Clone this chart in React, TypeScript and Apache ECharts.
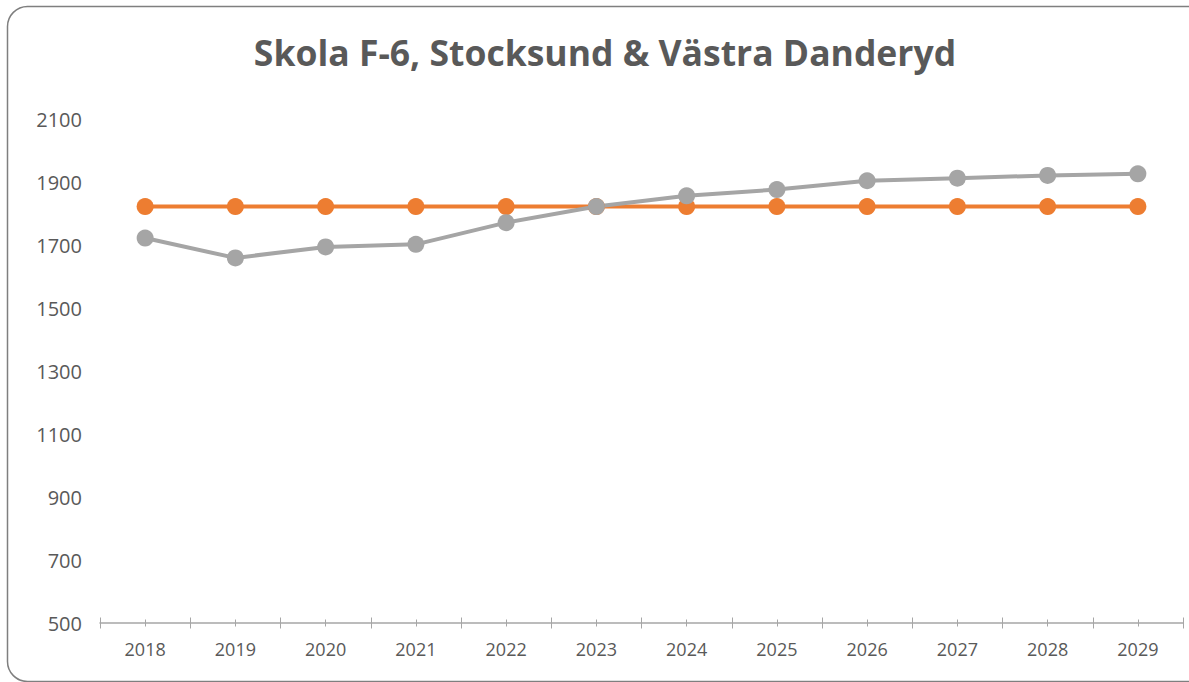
import React, { useEffect, useRef } from "react";
import * as echarts from "echarts";

const title = "Skola F-6, Stocksund & Västra Danderyd";
const years = ["2018", "2019", "2020", "2021", "2022", "2023", "2024", "2025", "2026", "2027", "2028", "2029"];
const capacity = [1822, 1822, 1822, 1822, 1822, 1822, 1822, 1822, 1822, 1822, 1822, 1822];
const forecast = [1722, 1659, 1694, 1702, 1771, 1822, 1856, 1876, 1904, 1912, 1921, 1926];
const yMin = 500;
const yMax = 2100;
const yStep = 200;

const FONT = "'Open Sans', sans-serif";
const AXIS_COLOR = "#a6a6a6";
const TEXT_COLOR = "#595959";

export default function App() {
  const ref = useRef<HTMLDivElement>(null);
  useEffect(() => {
    if (!ref.current) return;
    const chart = echarts.init(ref.current, undefined, { renderer: "svg" });
    const tickAxis = (inside: boolean, align: boolean, len: number) => ({
      type: "category",
      data: years,
      position: "bottom",
      boundaryGap: true,
      axisLine: { show: false },
      axisLabel: { show: false },
      axisTick: {
        show: true,
        interval: 0,
        inside,
        alignWithLabel: align,
        length: len,
        lineStyle: { color: AXIS_COLOR, width: 1 },
      },
      splitLine: { show: false },
    });
    chart.setOption({
      animation: false,
      backgroundColor: "#ffffff",
      graphic: [
        {
          type: "rect",
          shape: { x: 7.5, y: 6.5, width: 1200, height: 675, r: 20 },
          style: { fill: "none", stroke: "#7f7f7f", lineWidth: 1.5 },
          z: -1,
        },
        {
          type: "text",
          x: 605,
          y: 52,
          style: {
            text: title,
            textAlign: "center",
            textVerticalAlign: "middle",
            fontFamily: FONT,
            fontWeight: "bold",
            fontSize: 35.5,
            fill: TEXT_COLOR,
          },
        },
      ],
      grid: { left: 100, right: 6, top: 119, bottom: 59, containLabel: false },
      xAxis: [
        {
          type: "category",
          data: years,
          position: "bottom",
          boundaryGap: true,
          axisLine: { show: true, lineStyle: { color: AXIS_COLOR, width: 1.5 } },
          axisTick: { show: true, interval: 0, length: 5.5, lineStyle: { color: AXIS_COLOR, width: 1 } },
          axisLabel: { show: true, interval: 0, margin: 17, fontFamily: FONT, fontSize: 18, color: TEXT_COLOR },
          splitLine: { show: false },
        },
        tickAxis(true, false, 5.5),
        tickAxis(false, true, 3.5),
        tickAxis(true, true, 3.5),
      ],
      yAxis: {
        type: "value",
        min: yMin,
        max: yMax,
        interval: yStep,
        axisLine: { show: false },
        axisTick: { show: false },
        splitLine: { show: false },
        axisLabel: {
          margin: 18,
          fontFamily: FONT,
          fontSize: 20,
          color: TEXT_COLOR,
          formatter: (v: number) => String(v),
        },
      },
      series: [
        {
          name: "Kapacitet",
          type: "line",
          data: capacity,
          symbol: "circle",
          symbolSize: 17,
          itemStyle: { color: "#ED7D31" },
          lineStyle: { color: "#ED7D31", width: 4 },
        },
        {
          name: "Prognos",
          type: "line",
          data: forecast,
          symbol: "circle",
          symbolSize: 17,
          itemStyle: { color: "#A5A5A5" },
          lineStyle: { color: "#A5A5A5", width: 4 },
        },
      ],
    });
    return () => chart.dispose();
  }, []);
  return (
    <div
      ref={ref}
      style={{ position: "absolute", left: 0, top: 0, width: 1189, height: 682 }}
    />
  );
}
